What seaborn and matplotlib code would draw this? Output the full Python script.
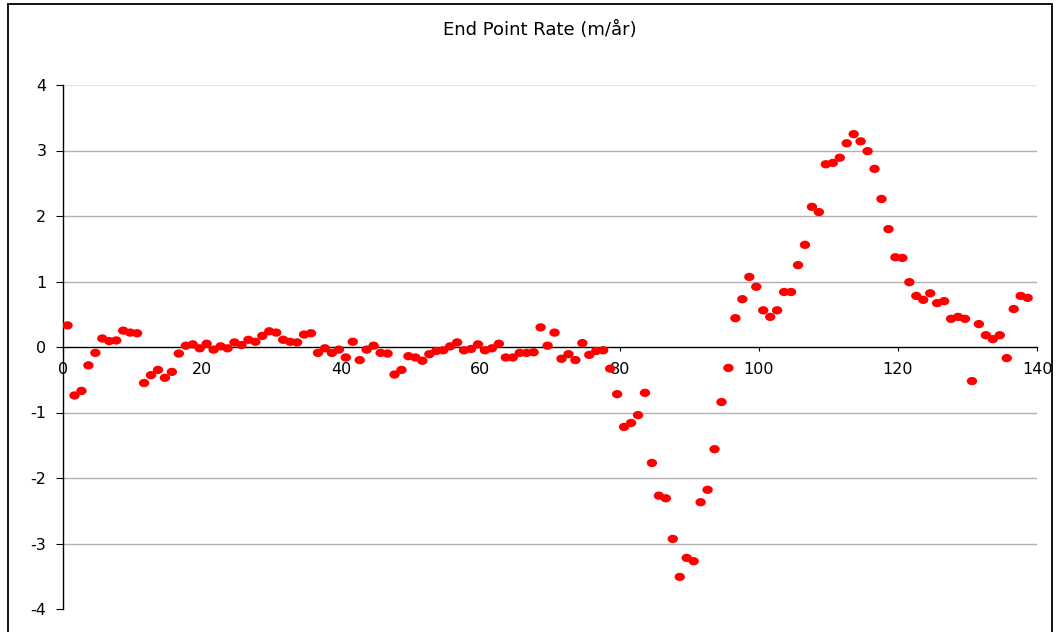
import numpy as np
import pandas as pd
import matplotlib
matplotlib.use("Agg")
import matplotlib.pyplot as plt
import seaborn as sns
from matplotlib.path import Path
from matplotlib.patches import Rectangle
from matplotlib.transforms import Affine2D

# ---- data ----
title = "End Point Rate (m/år)"
epr_values = [
    0.33, -0.74, -0.67, -0.28, -0.09, 0.13, 0.09, 0.10, 0.25, 0.22,
    0.21, -0.55, -0.43, -0.35, -0.47, -0.38, -0.10, 0.02, 0.04, -0.02,
    0.05, -0.04, 0.01, -0.02, 0.07, 0.03, 0.11, 0.08, 0.17, 0.24,
    0.22, 0.11, 0.08, 0.07, 0.19, 0.21, -0.09, -0.02, -0.09, -0.04,
    -0.16, 0.08, -0.20, -0.04, 0.02, -0.09, -0.10, -0.42, -0.35, -0.14,
    -0.16, -0.21, -0.11, -0.06, -0.05, 0.01, 0.07, -0.05, -0.03, 0.04,
    -0.05, -0.02, 0.05, -0.16, -0.16, -0.09, -0.09, -0.08, 0.30, 0.02,
    0.22, -0.18, -0.11, -0.20, 0.06, -0.12, -0.06, -0.05, -0.33, -0.72,
    -1.22, -1.16, -1.04, -0.70, -1.77, -2.27, -2.31, -2.93, -3.51, -3.22,
    -3.27, -2.37, -2.18, -1.56, -0.84, -0.32, 0.44, 0.73, 1.07, 0.92,
    0.56, 0.46, 0.56, 0.84, 0.84, 1.25, 1.56, 2.14, 2.06, 2.79,
    2.81, 2.89, 3.11, 3.25, 3.14, 2.99, 2.72, 2.26, 1.80, 1.37,
    1.36, 0.99, 0.78, 0.72, 0.82, 0.67, 0.70, 0.43, 0.46, 0.43,
    -0.52, 0.35, 0.18, 0.12, 0.18, -0.17, 0.58, 0.78, 0.75,
]
transect_offset = 0.65
x_positions = np.arange(len(epr_values)) + transect_offset
x_ticks = [0, 20, 40, 60, 80, 100, 120, 140]
y_ticks = [-4, -3, -2, -1, 0, 1, 2, 3, 4]

df = pd.DataFrame({"x": x_positions, "epr": epr_values})

# ---- style ----
sns.set_theme(style="white")
plt.rcParams["font.family"] = ["DejaVu Sans"]
plt.rcParams["axes.unicode_minus"] = False

W, H = 1058, 632
fig = plt.figure(figsize=(W / 100, H / 100), dpi=100)
ax = fig.add_axes([63 / W, 1 - 609 / H, (1037 - 63) / W, (609 - 85) / H])

# elliptical marker (wider than tall)
ell = Path.unit_circle().transformed(Affine2D().scale(1.0, 0.8))

sns.scatterplot(data=df, x="x", y="epr", ax=ax, marker=ell, s=56,
                color="#ff0000", edgecolor="none", linewidth=0, zorder=5,
                legend=False)

ax.set_xlim(0, 140)
ax.set_ylim(-4, 4)
ax.set_xticks(x_ticks)
ax.set_yticks(y_ticks)
ax.set_xticklabels([str(v) for v in x_ticks])
ax.set_yticklabels([str(v) for v in y_ticks])
ax.set_xlabel("")
ax.set_ylabel("")

# gridlines
for yv in y_ticks:
    if yv in (-4, 0):
        continue
    col = "#e6e6e6" if yv == 4 else "#b0b0b0"
    ax.axhline(yv, color=col, linewidth=1.0, zorder=1)

for s in ("top", "right"):
    ax.spines[s].set_visible(False)
ax.spines["left"].set_color("black")
ax.spines["left"].set_linewidth(1.0)
ax.spines["bottom"].set_position(("data", 0))
ax.spines["bottom"].set_color("black")
ax.spines["bottom"].set_linewidth(1.0)
ax.spines["bottom"].set_zorder(2)

ax.tick_params(axis="y", direction="out", length=5, width=0.8, color="black",
               pad=7, labelsize=11.5, labelcolor="black", left=True)
ax.tick_params(axis="x", direction="out", length=3, width=0.8, color="black",
               pad=8, labelsize=11.5, labelcolor="black", bottom=True)

fig.text(540 / W, 1 - 30 / H, title, ha="center", va="center",
         fontsize=13, color="black")

# outer chart border
fig.patches.append(Rectangle((8 / W, -0.05), (1052 - 8) / W, 1.05 - 4 / H,
                             transform=fig.transFigure, fill=False,
                             edgecolor="black", linewidth=1.3))

fig.savefig("out.png", dpi=100)
